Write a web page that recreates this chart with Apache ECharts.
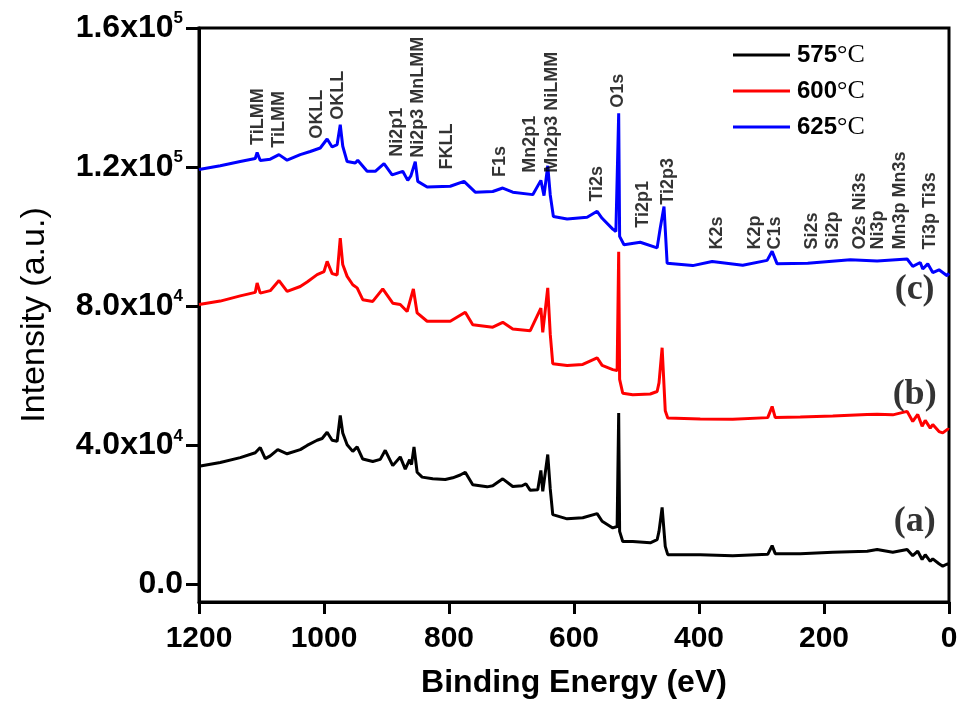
<!DOCTYPE html>
<html>
<head>
<meta charset="utf-8">
<script src="https://cdn.jsdelivr.net/npm/echarts@6/dist/echarts.min.js"></script>
<style>
  html, body { margin: 0; padding: 0; background: #fff; }
  #chart { width: 960px; height: 702px; }
</style>
</head>
<body>
<div id="chart"></div>
<script>
// binding energy (eV) and intensity (counts)
var energyA = [1200,1166,1134,1110,1102,1094,1086,1074,1059,1038,1027,1011,1003,995,987,979,974,970,963,954,947,938,922,910,902,890,878,870,863,860,856,851,843,826,806,794,782,774,762,739,730,714,698,683,677,670,658,653,650,642,638,634,611,586,563,555,538,531,530,528.5,527,522,506,478,467,464,459,454,450,398,346,290,283,278,238,186,131,115,90,67,58,50,43,38,30,26,16,10,2,0];
var intensityA = [34000,35100,36500,37900,39400,36200,37000,38800,37600,38800,40000,41500,42000,43800,41500,41200,48600,43600,40200,38300,39600,36100,35400,36000,38600,34200,36700,33200,35900,34500,39600,32300,30900,30400,30200,30700,31500,32300,28700,28100,28400,30400,28200,28400,29000,27100,27300,32800,26800,37400,27500,20100,18900,19200,20400,18200,16300,16700,17000,49300,15300,12400,12400,12000,12900,15300,22200,11000,8600,8600,8300,8700,11200,8900,8900,9300,9600,10100,9300,10100,8300,9600,7200,8600,6700,7400,6000,5300,6000,5800];

var energyB = [1200,1166,1134,1110,1107,1102,1086,1072,1059,1038,1027,1011,1000,995,987,979,974,970,963,954,947,938,922,906,890,878,867,857,851,835,798,774,762,730,714,698,670,653,650,642,638,634,611,586,563,555,538,531,530,528.5,527,522,506,478,467,464,459,454,450,398,346,290,283,278,238,186,131,115,90,67,58,50,43,38,30,26,16,10,2,0];
var intensityB = [80500,81500,83000,84000,86700,83800,84500,87400,84300,85700,87000,89100,90000,92900,89400,89000,99600,92000,88600,86200,85300,81900,81400,85000,80900,80500,78500,85000,78100,75700,75700,78300,74700,74000,75400,73500,73000,79500,72500,85300,72000,63500,63000,63300,65200,63000,61800,61500,62000,95700,59000,55000,54600,54800,55500,58000,68100,50000,47900,47600,47500,48000,51200,48000,48200,48500,48900,49000,48800,49800,46900,48900,45500,47200,45000,46000,44000,43600,44700,44500];

var energyC = [1200,1166,1134,1110,1107,1102,1086,1072,1059,1038,1022,1006,995,987,979,974,970,963,950,946,931,918,904,891,874,866,861,854,850,835,798,776,758,730,714,698,666,653,648,642,638,633,611,579,563,555,538,533,530,528.5,527,520,494,467,462,456,451,410,379,330,291,283,275,226,158,115,67,58,46,42,34,26,16,3,0];
var intensityC = [119300,120400,121600,122500,124200,121900,122300,123600,122000,123600,124500,125500,128100,125800,126500,132200,126000,121600,121200,122000,118800,118800,121000,117800,118800,116200,117500,121600,115900,114300,114500,115900,112800,113000,114000,112800,112100,116200,111800,120400,112000,105800,105100,105600,107300,105300,102200,101500,102000,135500,100100,97700,98400,96800,102500,108700,92400,91700,92900,91800,93200,95800,92200,92400,93400,93000,93600,91500,92600,90700,92200,89700,90500,88800,89500];

var seriesNames = ['575°C', '600°C', '625°C'];
var seriesColors = ['#000000', '#ff0000', '#0000ff'];

// peak assignments: label text, energy, intensity at the foot of the label
var peakNames = ['TiLMM','TiLMM','OKLL','OKLL','Ni2p1','Ni2p3 MnLMM','FKLL','F1s','Mn2p1','Mn2p3 NiLMM','Ti2s','O1s','Ti2p1','Ti2p3','K2s','K2p','C1s','Si2s','Si2p','O2s Ni3s','Ni3p','Mn3p Mn3s','Ti3p Ti3s'];
var peakEnergy = [1105,1072,1011,978,883,850,803,718,670,635,563,530,490,450,371,310,278,219,186,142,114,78,30];
var peakFoot = [126400,125600,128200,133600,123000,122700,119300,117200,118400,118400,110100,137100,102600,109200,96300,96300,96300,96300,96300,96300,96300,96300,96300];

var tagNames = ['(a)', '(b)', '(c)'];
var tagEnergy = [55, 55, 55];
var tagLevel = [18100, 54600, 84800];

var yTicks = [0, 40000, 80000, 120000, 160000];

function pairs(xs, ys) {
  return xs.map(function (x, i) { return [x, ys[i]]; });
}

function yLabel(v) {
  if (v === 0) return '{m|0.0}';
  var e = Math.floor(Math.log10(v));
  var m = (v / Math.pow(10, e)).toFixed(1);
  return '{m|' + m + 'x10}{s|' + e + '}';
}

var chart = echarts.init(document.getElementById('chart'));

var lineData = [pairs(energyA, intensityA), pairs(energyB, intensityB), pairs(energyC, intensityC)];
var series = lineData.map(function (d, i) {
  return {
    name: seriesNames[i],
    type: 'line',
    data: d,
    showSymbol: false,
    color: seriesColors[i],
    lineStyle: { width: 3, color: seriesColors[i] },
    z: 3 - i
  };
});

series.push({
  type: 'scatter',
  silent: true,
  symbolSize: 0,
  data: peakNames.map(function (n, i) { return { name: n, value: [peakEnergy[i], peakFoot[i]] }; }),
  label: {
    show: true,
    formatter: '{b}',
    position: [0, 0],
    rotate: 90,
    align: 'left',
    verticalAlign: 'middle',
    color: '#000',
    fontFamily: 'Liberation Sans',
    fontWeight: 'bold',
    fontSize: 18
  }
});

series.push({
  type: 'scatter',
  silent: true,
  symbolSize: 0,
  data: tagNames.map(function (n, i) { return { name: n, value: [tagEnergy[i], tagLevel[i]] }; }),
  label: {
    show: true,
    formatter: '{b}',
    position: [0, 0],
    align: 'center',
    verticalAlign: 'middle',
    color: '#000',
    fontFamily: 'Liberation Serif',
    fontWeight: 'bold',
    fontSize: 36
  }
});

var option = {
  animation: false,
  backgroundColor: '#fff',
  grid: {
    left: 199, right: 11, top: 28, bottom: 100,
    outerBoundsMode: 'none',
    show: true, borderColor: '#000', borderWidth: 3
  },
  legend: {
    data: seriesNames,
    orient: 'vertical',
    left: 733,
    top: 42,
    padding: 0,
    icon: 'rect',
    itemWidth: 57,
    itemHeight: 3,
    itemGap: 10,
    formatter: function (name) {
      return '{n|' + name.replace('°C', '') + '}{c|°C}';
    },
    textStyle: {
      padding: [0, 0, 0, 2],
      rich: {
        n: { fontFamily: 'Liberation Sans', fontWeight: 'bold', fontSize: 24, color: '#000', lineHeight: 28 },
        c: { fontFamily: 'Liberation Serif', fontSize: 26, color: '#000', lineHeight: 28 }
      }
    }
  },
  xAxis: {
    type: 'value',
    inverse: true,
    min: 0,
    max: 1200,
    interval: 200,
    name: 'Binding Energy (eV)',
    nameLocation: 'middle',
    nameGap: 65,
    nameMoveOverlap: false,
    nameTextStyle: { fontFamily: 'Liberation Sans', fontWeight: 'bold', fontSize: 32, color: '#000' },
    axisLine: { onZero: false, lineStyle: { color: '#000', width: 3 } },
    axisTick: { inside: false, length: 12, lineStyle: { width: 3, color: '#000' } },
    axisLabel: {
      margin: 22,
      formatter: function (v) { return String(v); },
      fontFamily: 'Liberation Sans', fontWeight: 'bold', fontSize: 30, color: '#000'
    },
    splitLine: { show: false }
  },
  yAxis: {
    type: 'value',
    min: -5000,
    max: 160000,
    name: 'Intensity (a.u.)',
    nameLocation: 'middle',
    nameGap: 147,
    nameMoveOverlap: false,
    nameTextStyle: { fontFamily: 'Liberation Sans', fontSize: 34, color: '#000' },
    axisLine: { onZero: false, lineStyle: { color: '#000', width: 3 } },
    axisTick: { inside: false, length: 13, customValues: yTicks, lineStyle: { width: 3, color: '#000' } },
    axisLabel: {
      customValues: yTicks,
      margin: 16,
      formatter: yLabel,
      rich: {
        m: { fontFamily: 'Liberation Sans', fontWeight: 'bold', fontSize: 32, color: '#000', lineHeight: 36 },
        s: { fontFamily: 'Liberation Sans', fontWeight: 'bold', fontSize: 17, color: '#000', lineHeight: 17, verticalAlign: 'top' }
      }
    },
    splitLine: { show: false }
  },
  series: series
};

chart.setOption(option);
</script>
</body>
</html>
